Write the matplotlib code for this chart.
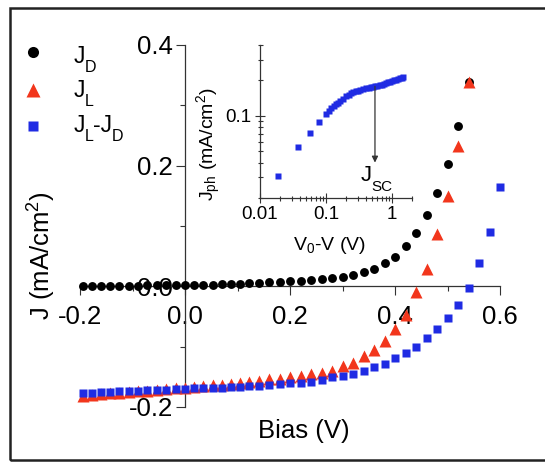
import matplotlib
matplotlib.use('Agg')
import matplotlib.pyplot as plt
from matplotlib.lines import Line2D
from matplotlib.patches import Rectangle
from matplotlib.ticker import NullFormatter, FixedLocator

plt.rcParams['font.family'] = ['Liberation Sans', 'DejaVu Sans']
plt.rcParams['mathtext.fontset'] = 'custom'
plt.rcParams['mathtext.rm'] = 'Liberation Sans'
plt.rcParams['mathtext.it'] = 'Liberation Sans:italic'
plt.rcParams['mathtext.bf'] = 'Liberation Sans:bold'
plt.rcParams['axes.unicode_minus'] = False

# ---------------- data ----------------
bias_left = [-0.195, -0.178, -0.160, -0.142, -0.125, -0.107, -0.090, -0.072, -0.054,
             -0.036, -0.018, 0.000, 0.017, 0.035, 0.053, 0.070, 0.087, 0.105, 0.122]
bias_right = [0.14, 0.16, 0.18, 0.20, 0.22, 0.24, 0.26, 0.28, 0.30, 0.32, 0.34,
              0.36, 0.38, 0.40, 0.42, 0.44, 0.46, 0.48, 0.50, 0.52, 0.54]
bias_right_ld = bias_right + [0.56, 0.58, 0.60]

jd_left = [0.000, 0.000, 0.001, 0.001, 0.001, 0.001, 0.001, 0.002, 0.002, 0.002,
           0.002, 0.003, 0.003, 0.003, 0.003, 0.004, 0.004, 0.004, 0.005]
jd_right = [0.006, 0.007, 0.008, 0.009, 0.009, 0.0105, 0.012, 0.013, 0.0155, 0.019,
            0.023, 0.028, 0.038, 0.049, 0.067, 0.089, 0.118, 0.154, 0.203, 0.265, 0.339]

jl_left = [-0.181, -0.180, -0.178, -0.177, -0.176, -0.175, -0.174, -0.173, -0.172,
           -0.170, -0.169, -0.168, -0.167, -0.166, -0.164, -0.163, -0.162, -0.160, -0.159]
jl_right = [-0.157, -0.154, -0.153, -0.151, -0.148, -0.146, -0.143, -0.140, -0.132,
            -0.127, -0.116, -0.106, -0.091, -0.070, -0.047, -0.010, 0.029, 0.086,
            0.149, 0.232, 0.338]

jld_left = [-0.177, -0.176, -0.175, -0.175, -0.174, -0.173, -0.173, -0.172, -0.171,
            -0.171, -0.170, -0.170, -0.169, -0.169, -0.168, -0.168, -0.167, -0.167, -0.166]
jld_right = [-0.166, -0.164, -0.162, -0.161, -0.160, -0.158, -0.156, -0.151, -0.149,
             -0.146, -0.141, -0.134, -0.128, -0.118, -0.110, -0.100, -0.086, -0.070,
             -0.053, -0.031, -0.002, 0.038, 0.090, 0.164]

# inset: Jph vs V0-V
v0v = [0.019, 0.038, 0.057, 0.077, 0.10, 0.11, 0.12, 0.13, 0.14, 0.15, 0.16, 0.18,
       0.20, 0.22, 0.24, 0.26, 0.28, 0.30, 0.33, 0.36, 0.40, 0.44, 0.48, 0.52, 0.56,
       0.60, 0.65, 0.70, 0.76, 0.82, 0.88, 0.94, 1.00, 1.08, 1.16, 1.24, 1.32, 1.40, 1.48]
jph = [0.031, 0.054, 0.072, 0.088, 0.103, 0.110, 0.116, 0.121, 0.125, 0.129, 0.133,
       0.139, 0.146, 0.150, 0.155, 0.159, 0.162, 0.164, 0.167, 0.169, 0.171, 0.173,
       0.175, 0.177, 0.178, 0.179, 0.181, 0.184, 0.186, 0.189, 0.192, 0.195, 0.197,
       0.200, 0.203, 0.206, 0.209, 0.211, 0.214]
jsc_v = 0.55
jsc_tip = 0.040

main_xticks = [-0.2, 0.0, 0.2, 0.4, 0.6]
main_xlabels = ['-0.2', '0.0', '0.2', '0.4', '0.6']
main_yticks = [-0.2, 0.0, 0.2, 0.4]
main_ylabels = ['-0.2', '0.0', '0.2', '0.4']
inset_xticks = [0.01, 0.1, 1]
inset_xlabels = ['0.01', '0.1', '1']
inset_yticks = [0.1]
inset_ylabels = ['0.1']

# legend labels as (text, is_subscript) pieces
legend_labels = [[('J', False), ('D', True)],
                 [('J', False), ('L', True)],
                 [('J', False), ('L', True), ('-J', False), ('D', True)]]

RED = '#F2361C'
BLUE = '#1F2BE3'
AXC = '#333333'

W, H = 545, 462
def fx(px):
    return px / W
def fy(py):
    return 1 - py / H

fig = plt.figure(figsize=(W / 100, H / 100), dpi=100)
renderer = fig.canvas.get_renderer()

def rich(x, base, pieces, size, subsize, drop):
    cur = x
    for s, sub in pieces:
        t = fig.text(fx(cur), fy(base + (drop if sub else 0)), s,
                     fontsize=subsize if sub else size, ha='left', va='baseline')
        cur += t.get_window_extent(renderer).width - 0.5

# ---------------- main axes ----------------
ax = fig.add_axes([fx(80), fy(407), 420 / W, 362 / H])
ax.set_facecolor('none')
ax.set_xlim(-0.2, 0.6)
ax.set_ylim(-0.2, 0.4)

bias_d = bias_left + bias_right
ax.plot(bias_d, jd_left + jd_right, 'o', color='black', ms=6.4, mec='none',
        clip_on=False, zorder=3)
ax.plot(bias_d, jl_left + jl_right, '^', color=RED, ms=9, mec='none',
        clip_on=False, zorder=4)
ax.plot(bias_left + bias_right_ld, jld_left + jld_right, 's', color=BLUE, ms=6.2,
        mec='none', clip_on=False, zorder=5)

for s in ['top', 'right']:
    ax.spines[s].set_visible(False)
for s in ['left', 'bottom']:
    ax.spines[s].set_position(('data', 0))
    ax.spines[s].set_color(AXC)
    ax.spines[s].set_linewidth(0.9)

ax.set_xticks(main_xticks, main_xlabels)
ax.set_yticks(main_yticks, main_ylabels)
ax.xaxis.set_minor_locator(FixedLocator([-0.1, 0.1, 0.3, 0.5]))
ax.yaxis.set_minor_locator(FixedLocator([-0.1, 0.1, 0.3]))
ax.tick_params(which='major', direction='out', length=6.3, width=0.8, colors=AXC,
               labelcolor='black', labelsize=18.5)
ax.tick_params(which='minor', direction='out', length=3.4, width=0.8, colors=AXC)
ax.tick_params(axis='x', which='major', pad=7.5)
ax.tick_params(axis='y', which='major', pad=2.5)

fig.text(fx(42), fy(256), 'J (mA/cm$^2$)', rotation=90, ha='center', va='center',
         fontsize=18.5)
fig.text(fx(304), fy(431), 'Bias (V)', ha='center', va='center', fontsize=18.5)

# ---------------- legend ----------------
leg_marks = [('o', 'black', 8.0, 52), ('^', RED, 10.5, 90), ('s', BLUE, 7.2, 126)]
leg_base = [63, 97, 132]
for (m, c, ms, py), lab, by in zip(leg_marks, legend_labels, leg_base):
    fig.add_artist(Line2D([fx(33)], [fy(py)], transform=fig.transFigure, marker=m,
                          color=c, ms=ms, mec='none', ls='none'))
    rich(74, by, lab, 16.5, 11.5, 9)

# ---------------- inset ----------------
axin = fig.add_axes([fx(260), fy(198), 152 / W, 153 / H])
axin.set_facecolor('none')
axin.set_xscale('log')
axin.set_yscale('log')
axin.set_xlim(0.01, 2)
axin.set_ylim(0.02, 0.4)
axin.plot(v0v, jph, 's', color=BLUE, ms=3.8, mec='none', clip_on=False, zorder=3)
for s in ['top', 'right']:
    axin.spines[s].set_visible(False)
for s in ['left', 'bottom']:
    axin.spines[s].set_color(AXC)
    axin.spines[s].set_linewidth(0.9)
axin.xaxis.set_major_locator(FixedLocator(inset_xticks))
axin.set_xticklabels(inset_xlabels)
axin.xaxis.set_minor_locator(FixedLocator([0.02, 0.03, 0.04, 0.05, 0.06, 0.07, 0.08,
                                           0.09, 0.2, 0.3, 0.4, 0.5, 0.6, 0.7, 0.8,
                                           0.9, 2]))
axin.xaxis.set_minor_formatter(NullFormatter())
axin.yaxis.set_major_locator(FixedLocator(inset_yticks))
axin.set_yticklabels(inset_ylabels)
axin.yaxis.set_minor_locator(FixedLocator([0.02, 0.03, 0.04, 0.05, 0.06, 0.07, 0.08,
                                           0.09, 0.2, 0.3, 0.4]))
axin.yaxis.set_minor_formatter(NullFormatter())
axin.tick_params(which='major', direction='inout', length=7, width=0.8, colors=AXC,
                 labelcolor='black', labelsize=13.5, pad=2.5)
axin.tick_params(which='minor', direction='inout', length=3.6, width=0.8, colors=AXC)

axin.annotate('', xy=(jsc_v, jsc_tip), xytext=(jsc_v, 0.178),
              arrowprops=dict(arrowstyle='-|>', color=AXC, lw=0.9, mutation_scale=9,
                              shrinkA=0, shrinkB=0))
rich(361, 181, [('J', False), ('SC', True)], 16, 11, 10)
fig.text(fx(329), fy(250), 'V$_\\mathrm{0}$-V (V)', ha='center', va='baseline',
         fontsize=14)
fig.text(fx(209), fy(144), 'J$_\\mathrm{ph}$ (mA/cm$^2$)', rotation=90, ha='center',
         va='center', fontsize=14)

# ---------------- frame ----------------
fig.patches.append(Rectangle((fx(10), fy(460)), 560 / W, 452 / H,
                             transform=fig.transFigure, fill=False, lw=1.8,
                             ec='#222222', zorder=10))

fig.savefig('out.png', dpi=100)
